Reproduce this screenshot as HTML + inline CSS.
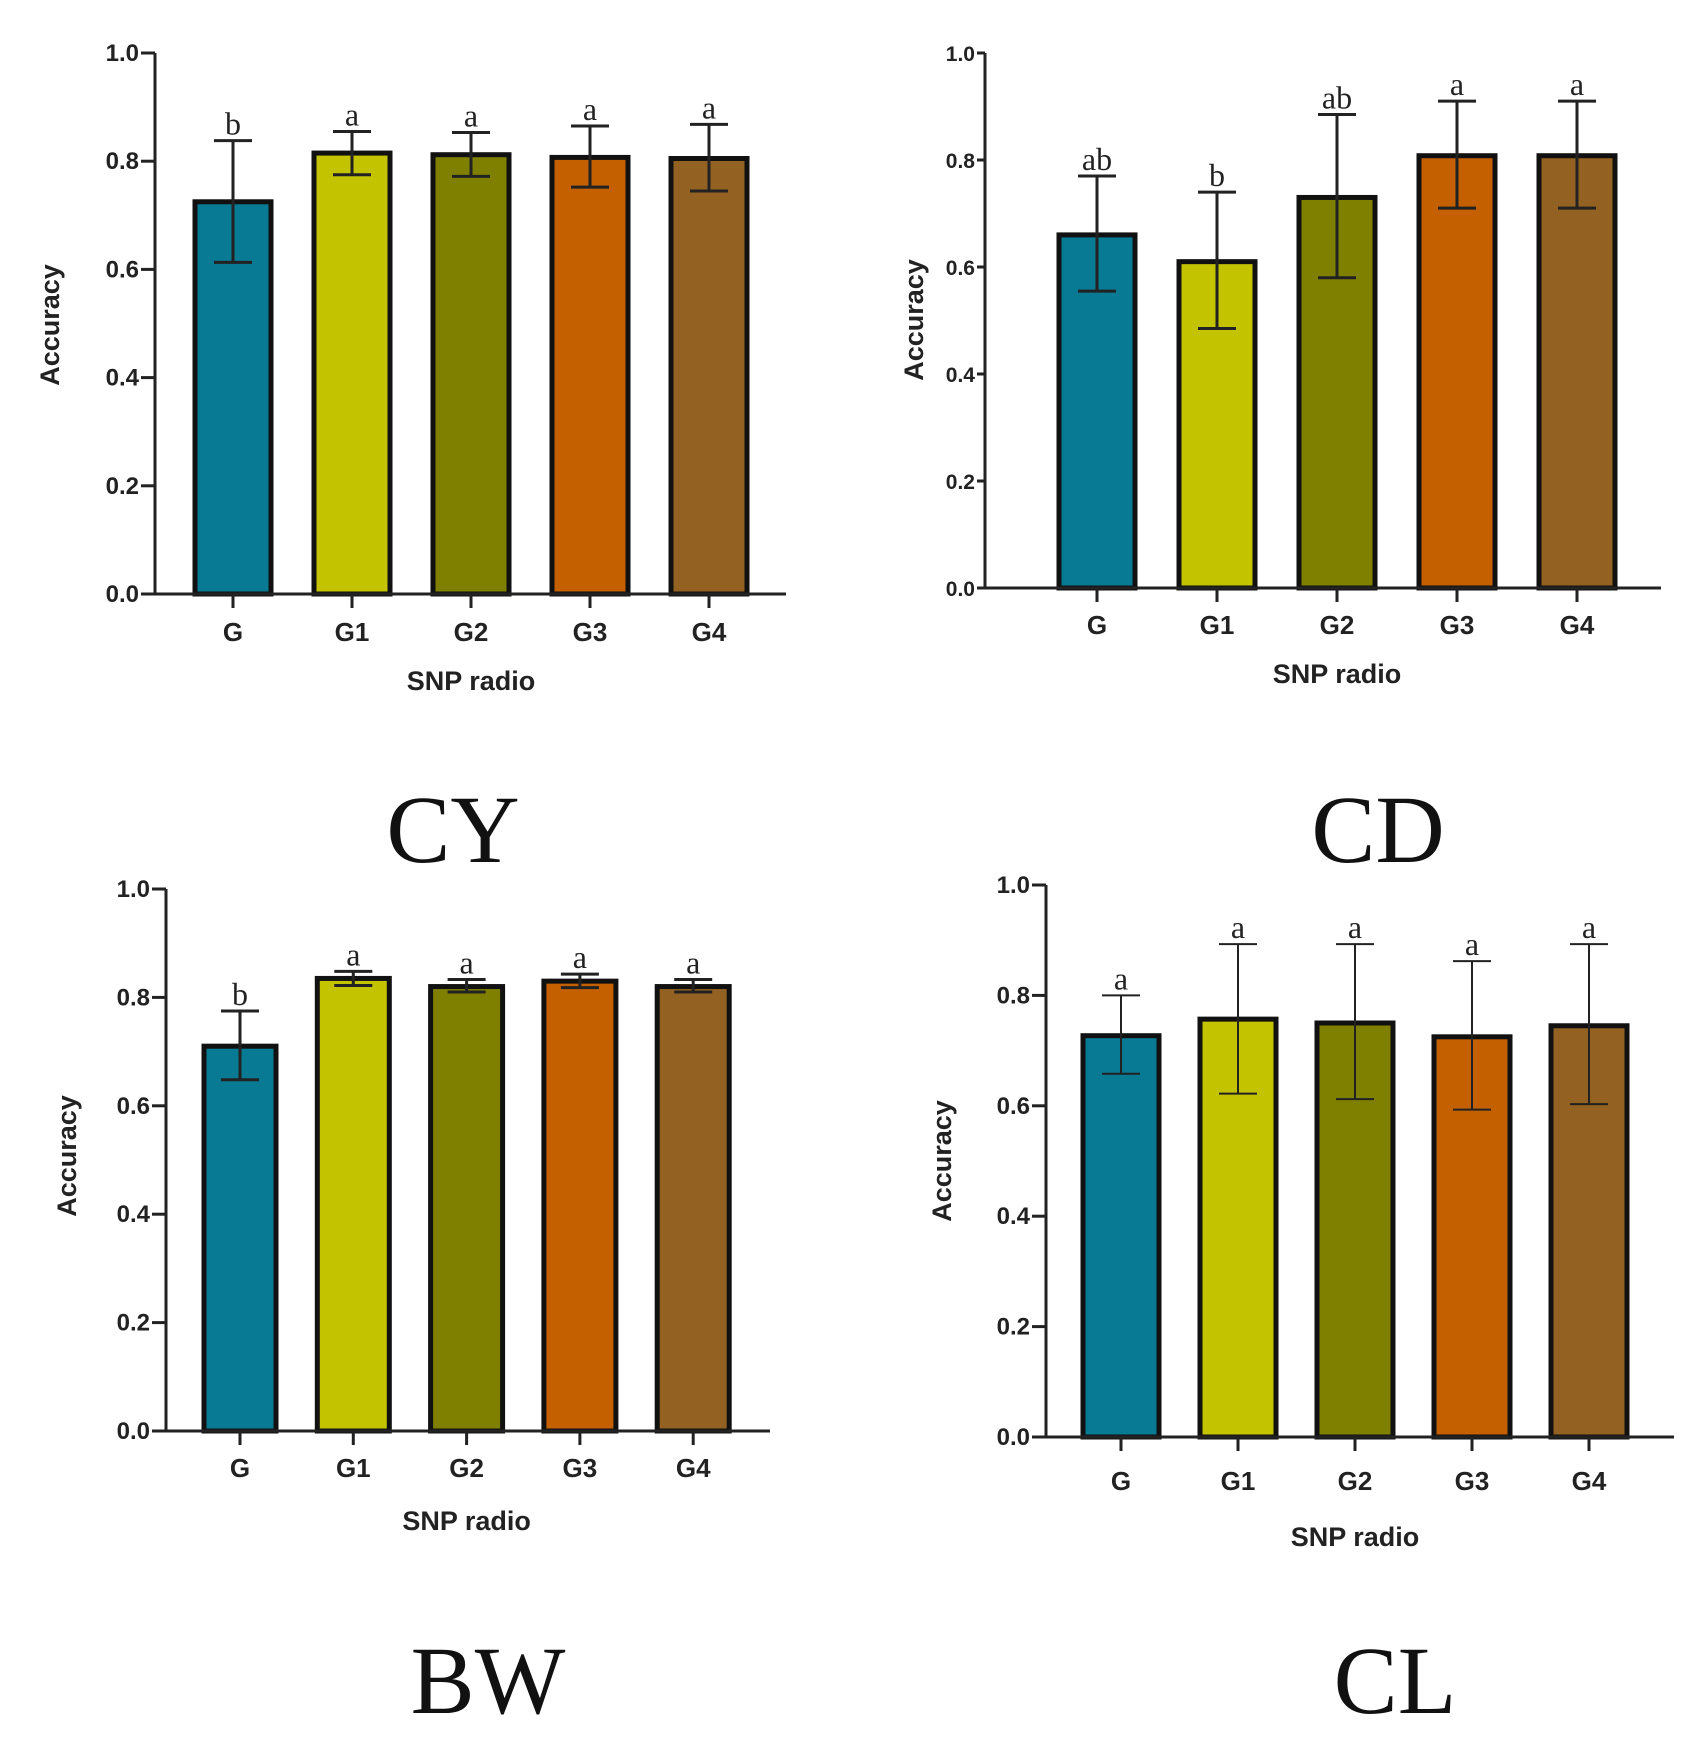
<!DOCTYPE html>
<html><head><meta charset="utf-8"><style>
body{margin:0;background:#fff;width:1705px;height:1757px;overflow:hidden}
svg{display:block}
.tk{font:bold 24px "Liberation Sans",sans-serif;fill:#222}
.ax{font:bold 27px "Liberation Sans",sans-serif;fill:#222}
.lt{font:32px "Liberation Serif",serif;fill:#222}
.ttl{font:96px "Liberation Serif",serif;fill:#111}
</style></head><body>
<svg id="fig" width="1705" height="1757"></svg>
<script>
const categories=["G","G1","G2","G3","G4"];
const colors=["#087a94","#c3c300","#808000","#c46000","#936121"];
const yTicks=[0,0.2,0.4,0.6,0.8,1.0];
const yTickLabels=["0.0","0.2","0.4","0.6","0.8","1.0"];
const titles=["CY","CD","BW","CL"];
const cyValues=[0.725,0.815,0.812,0.807,0.805];
const cyUpper=[0.838,0.855,0.853,0.865,0.868];
const cyLower=[0.613,0.775,0.772,0.752,0.745];
const cyLetters=["b","a","a","a","a"];
const cdValues=[0.66,0.61,0.73,0.808,0.808];
const cdUpper=[0.77,0.74,0.885,0.91,0.91];
const cdLower=[0.555,0.485,0.58,0.71,0.71];
const cdLetters=["ab","b","ab","a","a"];
const bwValues=[0.71,0.835,0.82,0.83,0.82];
const bwUpper=[0.775,0.848,0.833,0.843,0.833];
const bwLower=[0.648,0.822,0.81,0.818,0.81];
const bwLetters=["b","a","a","a","a"];
const clValues=[0.727,0.757,0.75,0.725,0.745];
const clUpper=[0.80,0.893,0.893,0.862,0.893];
const clLower=[0.658,0.622,0.612,0.593,0.603];
const clLetters=["a","a","a","a","a"];

const NS="http://www.w3.org/2000/svg";
const svg=document.getElementById('fig');
function mk(tag,attrs,parent,text){const e=document.createElementNS(NS,tag);for(const k in attrs)e.setAttribute(k,attrs[k]);if(text!==undefined)e.textContent=text;parent.appendChild(e);return e;}

const layouts=[
 {name:"cy",ax:155,y1:53,y0:594,xend:786,c0:233,step:119,bw:76,xl:632,xt:681,yt:[50,325],tt:[453,862],ew:3,tkOff:16,tkSize:24},
 {name:"cd",ax:985,y1:53,y0:588,xend:1661,c0:1097,step:120,bw:76,xl:625,xt:674,yt:[914,320],tt:[1378,862],ew:3,tkOff:10,tkSize:21},
 {name:"bw",ax:166,y1:889,y0:1431,xend:770,c0:240,step:113.3,bw:72,xl:1468,xt:1521,yt:[67,1156],tt:[488,1713],ew:3,tkOff:16,tkSize:24},
 {name:"cl",ax:1046,y1:885,y0:1437,xend:1674,c0:1121,step:117,bw:76,xl:1481,xt:1537,yt:[942,1161],tt:[1395,1713],ew:2,tkOff:16,tkSize:24}
];
const datasets=[[cyValues,cyUpper,cyLower,cyLetters],[cdValues,cdUpper,cdLower,cdLetters],[bwValues,bwUpper,bwLower,bwLetters],[clValues,clUpper,clLower,clLetters]];

layouts.forEach((L,pi)=>{
 const [vals,up,lo,let_]=datasets[pi];
 const g=mk('g',{},svg);
 
 
 const y=v=>L.y0-(L.y0-L.y1)*v;
 const x=i=>L.c0+L.step*i;
 vals.forEach((v,i)=>{
  const r=mk('rect',{x:x(i)-L.bw/2,y:y(v),width:L.bw,height:L.y0-y(v),fill:colors[i],stroke:'#111','stroke-width':5},g);
  
  
  const e=mk('g',{stroke:'#222','stroke-width':L.ew},g);
  
  
  mk('line',{x1:x(i),x2:x(i),y1:y(up[i]),y2:y(lo[i])},e);
  mk('line',{x1:x(i)-19,x2:x(i)+19,y1:y(up[i]),y2:y(up[i])},e);
  mk('line',{x1:x(i)-19,x2:x(i)+19,y1:y(lo[i]),y2:y(lo[i])},e);
  const t=mk('text',{x:x(i),y:y(up[i])-6,'text-anchor':'middle',class:'lt'},g,let_[i]);
  
  
  mk('line',{x1:x(i),x2:x(i),y1:L.y0,y2:L.y0+14,stroke:'#222','stroke-width':3},g);
  const xl=mk('text',{x:x(i),y:L.xl+9,'text-anchor':'middle',class:'tk',style:'font-size:26px'},g,categories[i]);
  
  
 });
 const a=mk('path',{d:`M${L.ax},${L.y1} V${L.y0} H${L.xend}`,fill:'none',stroke:'#222','stroke-width':3},g);
 
 
 yTicks.forEach((t,i)=>{
  mk('line',{x1:L.ax-(L.tkOff-2),x2:L.ax,y1:y(t),y2:y(t),stroke:'#222','stroke-width':3},g);
  const tl=mk('text',{x:L.ax-L.tkOff,y:y(t)+8,'text-anchor':'end',class:'tk',style:'font-size:'+L.tkSize+'px'},g,yTickLabels[i]);
  
  
 });
 const yt=mk('text',{x:L.yt[0],y:L.yt[1],'text-anchor':'middle',class:'ax',transform:`rotate(-90 ${L.yt[0]} ${L.yt[1]})`,dy:9},g,'Accuracy');
 
 
 const xt=mk('text',{x:(L.c0+x(4))/2,y:L.xt+9,'text-anchor':'middle',class:'ax'},g,'SNP radio');
 
 
 const tt=mk('text',{x:L.tt[0],y:L.tt[1],'text-anchor':'middle',class:'ttl'},g,titles[pi]);
 
 
});
</script>
</body></html>
